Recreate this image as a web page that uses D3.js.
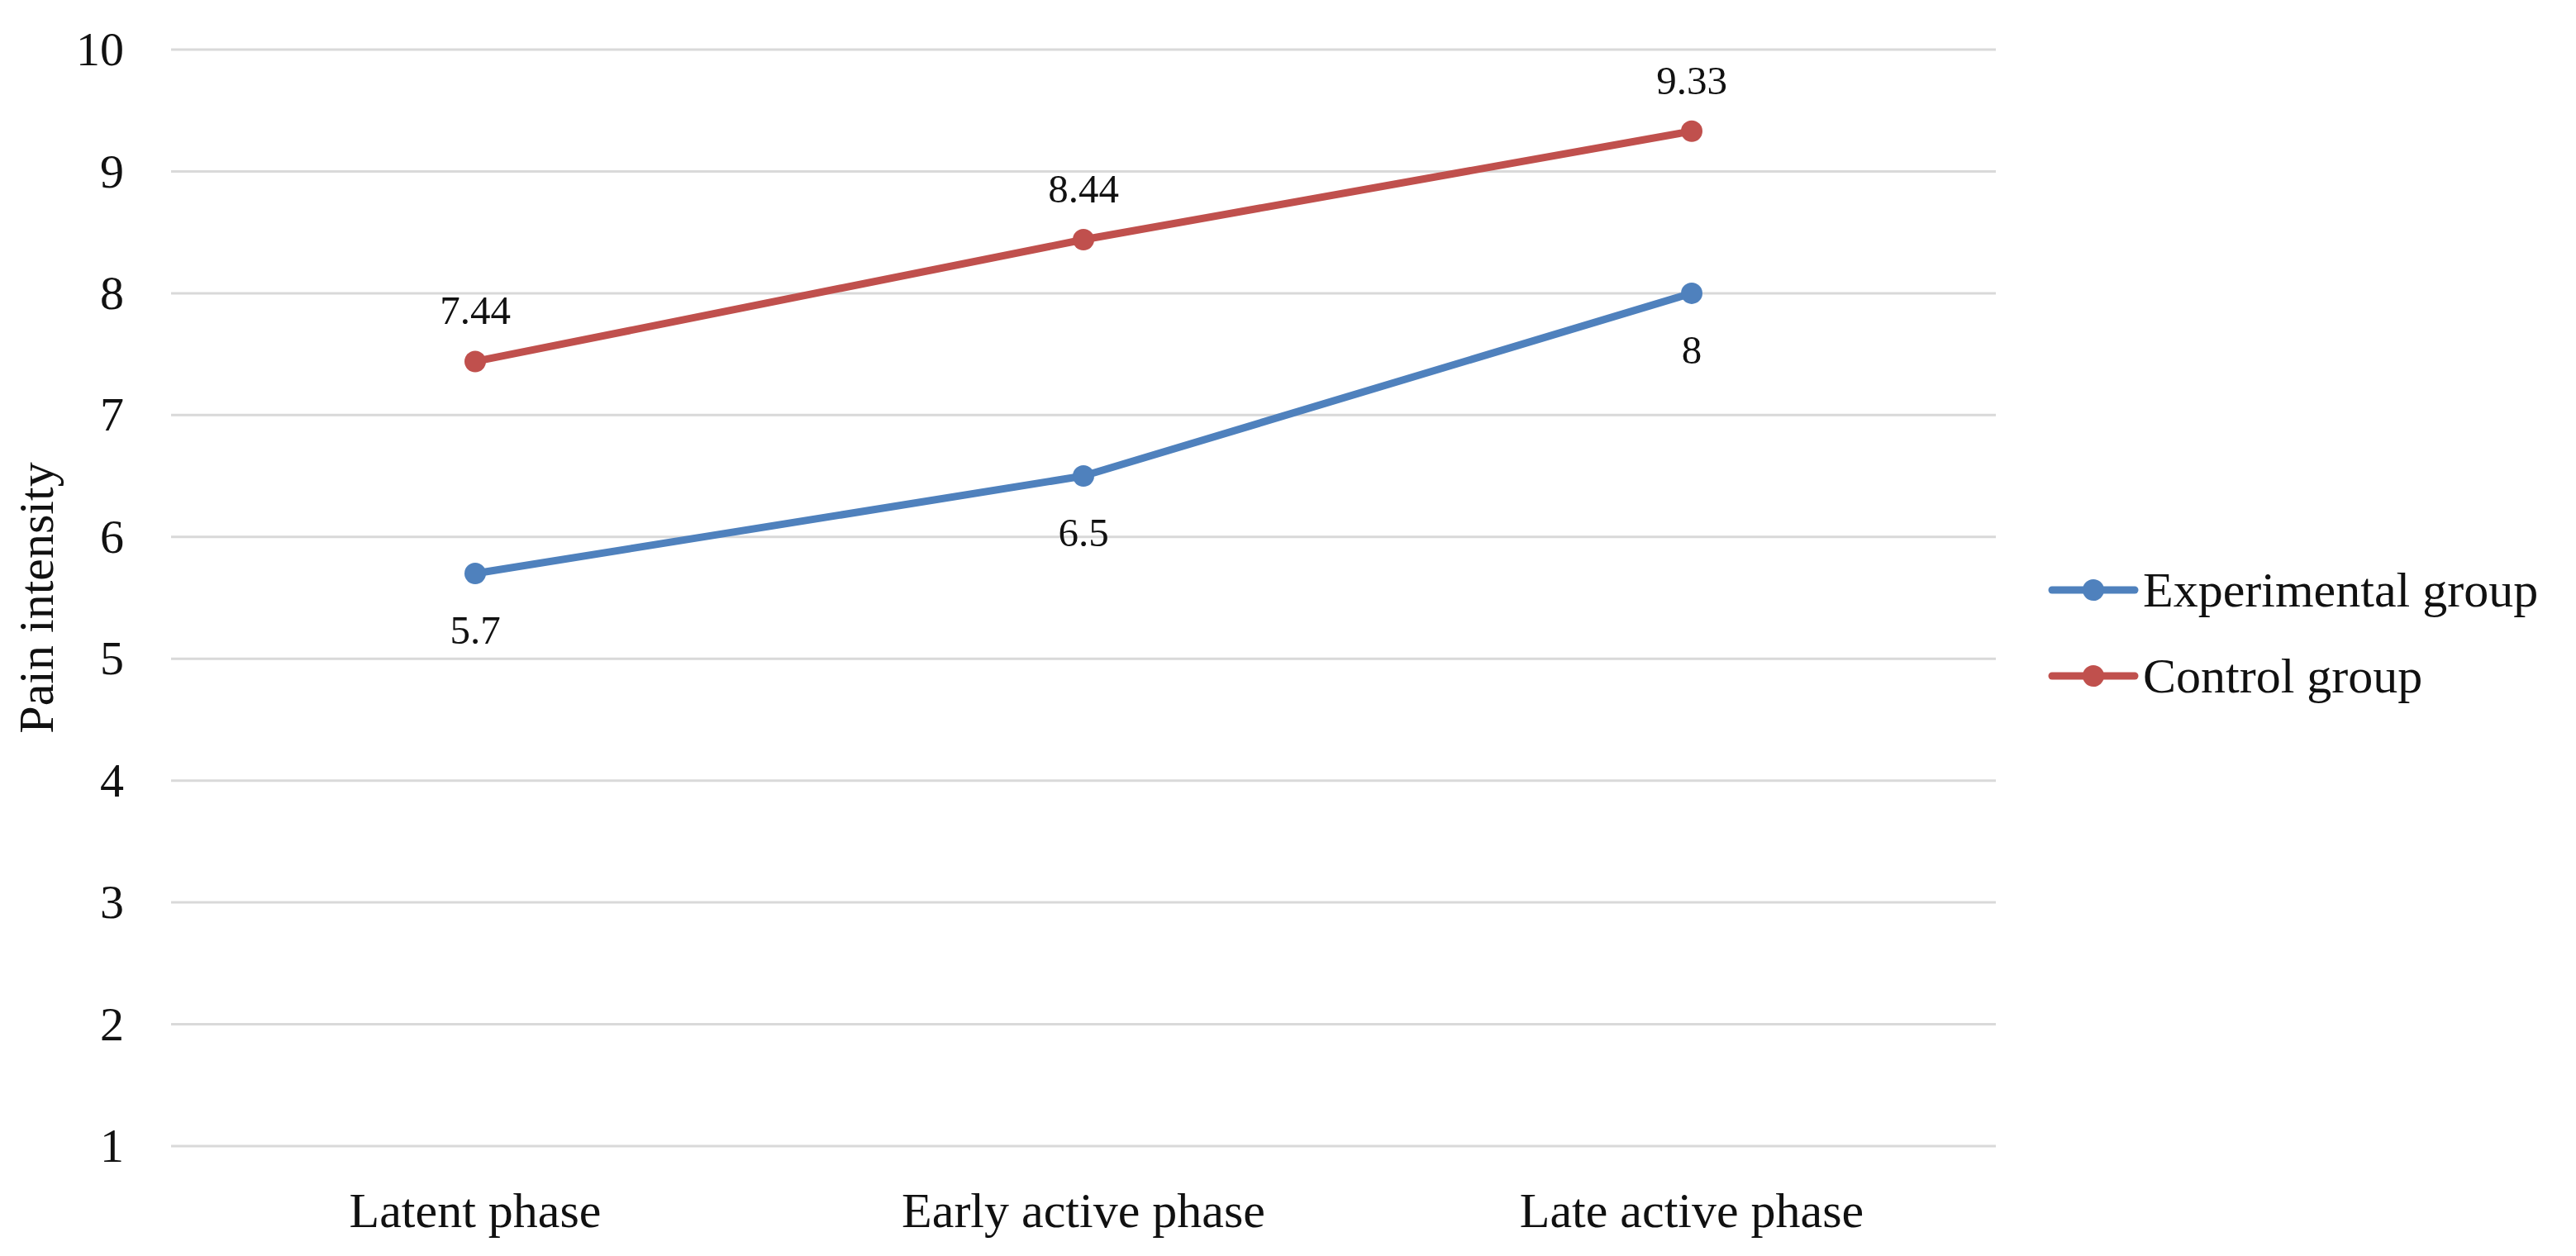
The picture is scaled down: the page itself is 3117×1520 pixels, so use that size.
<!DOCTYPE html>
<html>
<script src='https://d3js.org/d3.v7.min.js'></script>
<style>
  body {margin: 0; background: white;}
  text {font-family: 'Liberation Serif', 'Times New Roman', serif; fill: #111;}
</style>
<body onload='init()'>
<svg width=3117 height=1520></svg>
<script>
var phases = ['Latent phase', 'Early active phase', 'Late active phase'];
var seriesNames = ['Experimental group', 'Control group'];
var experimental = [5.7, 6.5, 8];
var control = [7.44, 8.44, 9.33];
var yTicks = [1, 2, 3, 4, 5, 6, 7, 8, 9, 10];
var colors = ['#4F81BD', '#C0504D'];

function init() {
  var svg = d3.select('svg');
  var xs = d3.scaleBand().domain(phases).range([207, 2415]);
  var ys = d3.scaleLinear().domain([1, 10]).range([1387, 60]);
  var cx = function(d, i){ return xs(phases[i]) + xs.bandwidth() / 2; };

  // gridlines
  svg.append('g')
    .selectAll('line')
      .data(yTicks)
      .enter()
      .append('line')
        .attr('x1', 207).attr('x2', 2415)
        .attr('y1', function(d){return ys(d);})
        .attr('y2', function(d){return ys(d);})
        .attr('stroke', '#D9D9D9')
        .attr('stroke-width', 3)

  // y axis labels
  var ya = svg.append('g')
    .attr('transform', 'translate(150,0)')
    .call(d3.axisLeft(ys).tickValues(yTicks).tickSize(0).tickPadding(0))
  ya.select('.domain').remove()
  ya.selectAll('text').style('font-size', '58px').attr('fill', '#111')

  // x axis labels
  var xa = svg.append('g')
    .attr('transform', 'translate(0,1442)')
    .call(d3.axisBottom(xs).tickSize(0).tickPadding(0))
  xa.select('.domain').remove()
  xa.selectAll('text').style('font-size', '60px').attr('fill', '#111').attr('dy', '0.71em')

  svg.append('text')
    .attr('transform', 'translate(64,' + ys(5.5) + ') rotate(-90)')
    .attr('text-anchor', 'middle')
    .style('font-size', '60px')
    .text('Pain intensity')

  var line = d3.line().x(cx).y(function(d){return ys(d);})
  var all = [experimental, control];

  all.forEach(function(vals, k) {
    svg.append('path')
      .datum(vals)
      .attr('d', line)
      .attr('fill', 'none')
      .attr('stroke', colors[k])
      .attr('stroke-width', 9)
      .attr('stroke-linejoin', 'round')
    svg.append('g')
      .selectAll('circle')
        .data(vals)
        .enter()
        .append('circle')
          .attr('cx', cx)
          .attr('cy', function(d){return ys(d);})
          .attr('r', 13)
          .attr('fill', colors[k])
    // labels: experimental below, control above
    svg.append('g')
      .selectAll('text')
        .data(vals)
        .enter()
        .append('text')
          .attr('x', cx)
          .attr('y', function(d){return k == 0 ? ys(d) + 85 : ys(d) - 45;})
          .attr('text-anchor', 'middle')
          .style('font-size', '49px')
          .text(function(d){return d;})
  })

  // legend
  var lg = svg.append('g')
    .selectAll('g')
      .data(seriesNames)
      .enter()
      .append('g')
        .attr('transform', function(d, i){return 'translate(2483,' + (714 + i * 104) + ')';})
  lg.append('line')
    .attr('x1', 0).attr('x2', 100)
    .attr('stroke', function(d, i){return colors[i];})
    .attr('stroke-width', 9)
    .attr('stroke-linecap', 'round')
  lg.append('circle')
    .attr('cx', 50).attr('r', 13)
    .attr('fill', function(d, i){return colors[i];})
  lg.append('text')
    .attr('x', 110).attr('y', 20)
    .style('font-size', '60px')
    .text(function(d){return d;})
}
</script>
</body>
</html>
